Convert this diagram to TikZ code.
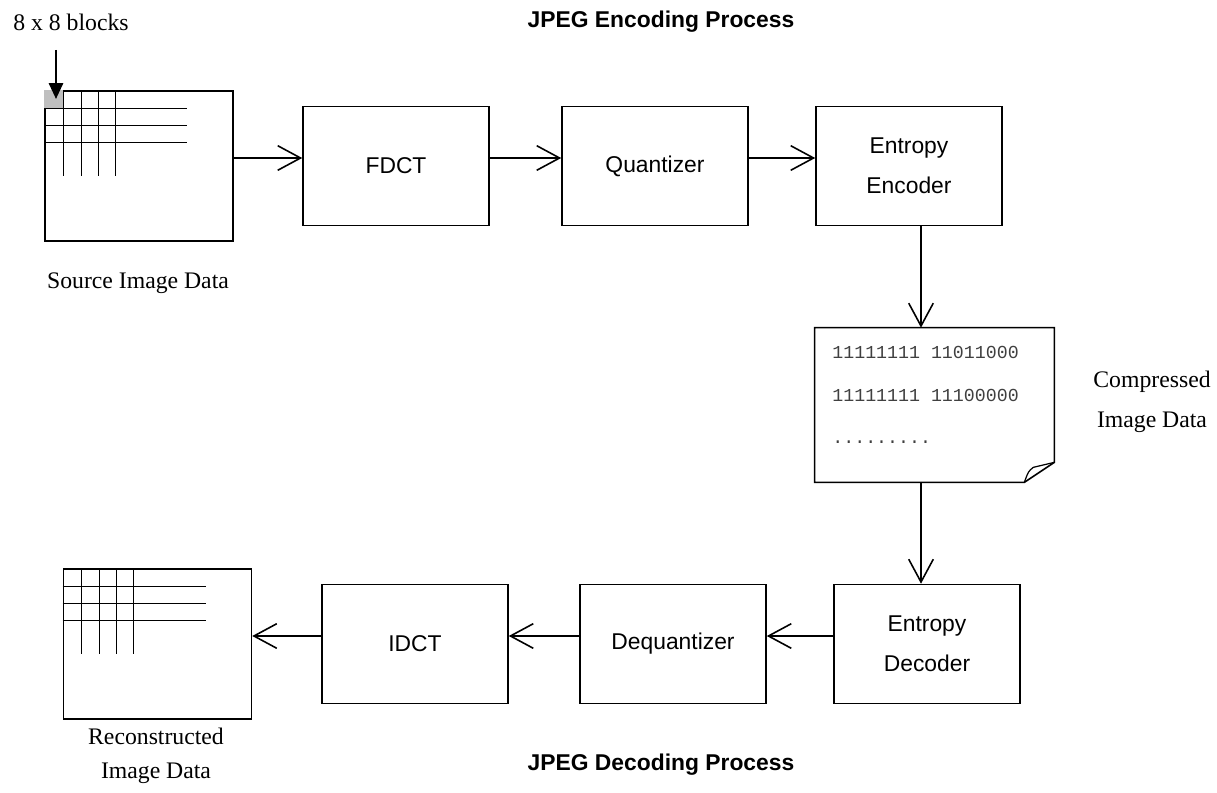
\documentclass[tikz,border=0pt]{standalone}
\usepackage{fontspec}
\setmainfont{Liberation Serif}
\setsansfont{Liberation Sans}
\setmonofont{Liberation Mono}
\usetikzlibrary{arrows.meta,positioning,calc}

\begin{document}
\begin{tikzpicture}[x=0.02cm, y=-0.02cm,
    stage/.style={draw, line width=0.9pt, minimum width=3.72cm, minimum height=2.38cm, align=center, font=\sffamily\fontsize{13}{23}\selectfont},
    picbox/.style={draw, line width=0.9pt, minimum width=3.76cm, minimum height=3cm},
    flow/.style={line width=0.9pt, -{Straight Barb[length=13pt,width=14pt,line width=0.9pt]}},
    caption/.style={align=center, font=\fontsize{13.5}{19}\selectfont},
    heading/.style={font=\sffamily\bfseries\fontsize{13}{15}\selectfont},
    bits/.style={anchor=west, inner sep=0pt, text=black!75, font=\ttfamily\fontsize{10.4}{12}\selectfont}]

    \useasboundingbox (0,0) rectangle (1217,793);

    % Encoding side
    \node[heading] (enctitle) at (661,22) {JPEG Encoding Process};
    \node[picbox] (src) at (139,166) {};
    \node[caption] (srclbl) at (138,283) {Source Image Data};
    \node[caption] (blklbl) at (71,22) {8 x 8 blocks};
    \node[stage] (fdct) at (396,166) {FDCT};
    \node[stage] (quant) at (655,166) {Quantizer};
    \node[stage] (enc) at (909,166) {Entropy\\Encoder};

    % Compressed data sheet
    \node[minimum width=4.78cm, minimum height=3.08cm, inner sep=0pt] (doc) at (934.5,405) {};
    \draw[line width=0.9pt] (doc.north west) -- (doc.north east) -- ([yshift=0.4cm]doc.south east)
        -- ([xshift=-0.6cm]doc.south east) -- (doc.south west) -- cycle;
    \draw[line width=0.7pt] ([xshift=-0.6cm]doc.south east) .. controls ([xshift=-0.52cm,yshift=0.22cm]doc.south east)
        .. ([xshift=-0.42cm,yshift=0.3cm]doc.south east) -- ([yshift=0.4cm]doc.south east);
    \node[bits] (bits1) at (832,352) {11111111 11011000};
    \node[bits] (bits2) at (832,395) {11111111 11100000};
    \node[bits] (bits3) at (832,442) {.........};
    \node[caption] (doclbl) at (1152,402) {Compressed\\[4pt]Image Data};

    % Decoding side
    \node[stage] (dec) at (927,644) {Entropy\\Decoder};
    \node[stage] (dequant) at (673,644) {Dequantizer};
    \node[stage] (idct) at (415,644) {IDCT};
    \node[picbox] (rec) at (157.5,644) {};
    \node[caption] (reclbl) at (156,756) {Reconstructed\\Image Data};
    \node[heading] (dectitle) at (661,765) {JPEG Decoding Process};

    % 8 x 8 block grids
    \fill[black!25] (src.north west) rectangle ++(19,18);
    \foreach \img in {src,rec} {
        \foreach \dx in {19,37,54,71}
            \draw[line width=0.7pt] ($(\img.north west)+(\dx,0)$) -- ++(0,86);
        \foreach \dy in {18,35,52}
            \draw[line width=0.7pt] ($(\img.north west)+(0,\dy)$) -- ++(143,0);
    }
    \coordinate (blkstart) at (56,50);
    \coordinate (blktip) at (56,99);
    \draw[line width=1.4pt, -{Triangle[length=9pt,width=8pt]}] (blkstart) -- (blktip);

    % data flow
    \draw[flow] ([yshift=0.16cm]src.east) -- ([yshift=0.16cm]fdct.west);
    \draw[flow] ([yshift=0.16cm]fdct.east) -- ([yshift=0.16cm]quant.west);
    \draw[flow] ([yshift=0.16cm]quant.east) -- ([yshift=0.16cm]enc.west);
    \coordinate (vline) at ([xshift=0.24cm]enc.south);
    \draw[flow] (vline) -- (vline |- doc.north);
    \draw[flow] (vline |- doc.south) -- (vline |- dec.north);
    \draw[flow] ([yshift=0.16cm]dec.west) -- ([yshift=0.16cm]dequant.east);
    \draw[flow] ([yshift=0.16cm]dequant.west) -- ([yshift=0.16cm]idct.east);
    \draw[flow] ([yshift=0.16cm]idct.west) -- ([yshift=0.16cm]rec.east);
\end{tikzpicture}
\end{document}
